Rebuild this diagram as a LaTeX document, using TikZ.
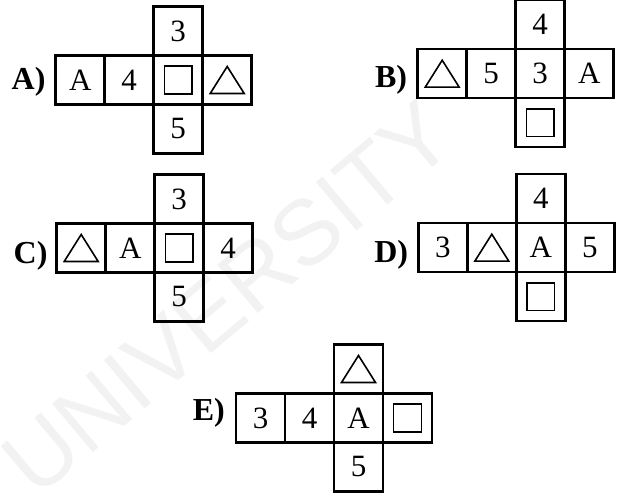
\documentclass[tikz,border=0pt]{standalone}
\usepackage{fontspec}
\setmainfont{Liberation Serif}
\newfontfamily\wmfont{Liberation Sans}
\tikzset{
  cellst/.style={draw, line width=2.5pt, minimum size=49pt, inner sep=0pt, font=\fontsize{31}{31}\selectfont},
  sqst/.style={draw, line width=1.6pt, minimum size=27.7pt, inner sep=0pt},
  trist/.style={draw, line width=1.6pt, line join=miter},
  lbl/.style={anchor=base east, inner sep=0pt, font=\bfseries\fontsize{32}{32}\selectfont},
  wm/.style={text=black!5, font=\wmfont\fontsize{92}{92}\selectfont, rotate=40}
}
\newcommand\cellbox[4]{\node[cellst] (#1) at (#2,#3) {#4};}
\newcommand\sqin[1]{\node[sqst] (#1s) at (#1) {};}
\newcommand\triin[1]{\draw[trist] ([shift={(-17,13.5)}]#1.center) -- ++(34,0) -- ++(-17,-27) -- cycle;}
\begin{document}
\begin{tikzpicture}[x=1pt,y=-1pt]
\useasboundingbox (0,0) rectangle (627,497);
\node[wm] (wmark) at (228,298) {UNIVERSITY};
% A
\node[lbl] (la) at (45.7,89.3) {A)};
\cellbox{a1}{80.2}{80}{A}
\cellbox{a2}{129.2}{80}{4}
\cellbox{a3}{178.2}{80}{}
\cellbox{a4}{227.2}{80}{}
\cellbox{at}{178.2}{31}{3}
\cellbox{ab}{178.2}{129}{5}
\sqin{a3}
\triin{a4}
% B
\node[lbl] (lb) at (407.3,87.3) {B)};
\cellbox{b1}{442.2}{73.7}{}
\cellbox{b2}{491.2}{73.7}{5}
\cellbox{b3}{540.2}{73.7}{3}
\cellbox{b4}{589.2}{73.7}{A}
\cellbox{bt}{540.2}{24.7}{4}
\cellbox{bb}{540.2}{122.7}{}
\triin{b1}
\sqin{bb}
% C
\node[lbl] (lc) at (47.7,263.3) {C)};
\cellbox{c1}{81.2}{248}{}
\cellbox{c2}{130.2}{248}{A}
\cellbox{c3}{179.2}{248}{}
\cellbox{c4}{228.2}{248}{4}
\cellbox{ct}{179.2}{199}{3}
\cellbox{cb}{179.2}{297}{5}
\triin{c1}
\sqin{c3}
% D
\node[lbl] (ld) at (408.3,262.3) {D)};
\cellbox{d1}{442.8}{247.7}{3}
\cellbox{d2}{491.8}{247.7}{}
\cellbox{d3}{540.8}{247.7}{A}
\cellbox{d4}{589.8}{247.7}{5}
\cellbox{dt}{540.8}{198.7}{4}
\cellbox{db}{540.8}{296.7}{}
\triin{d2}
\sqin{db}
% E
\node[lbl] (le) at (225,420) {E)};
\cellbox{e1}{260.5}{418}{3}
\cellbox{e2}{309.5}{418}{4}
\cellbox{e3}{358.5}{418}{A}
\cellbox{e4}{407.5}{418}{}
\cellbox{et}{358.5}{369}{}
\cellbox{eb}{358.5}{467}{5}
\sqin{e4}
\triin{et}
\end{tikzpicture}
\end{document}
